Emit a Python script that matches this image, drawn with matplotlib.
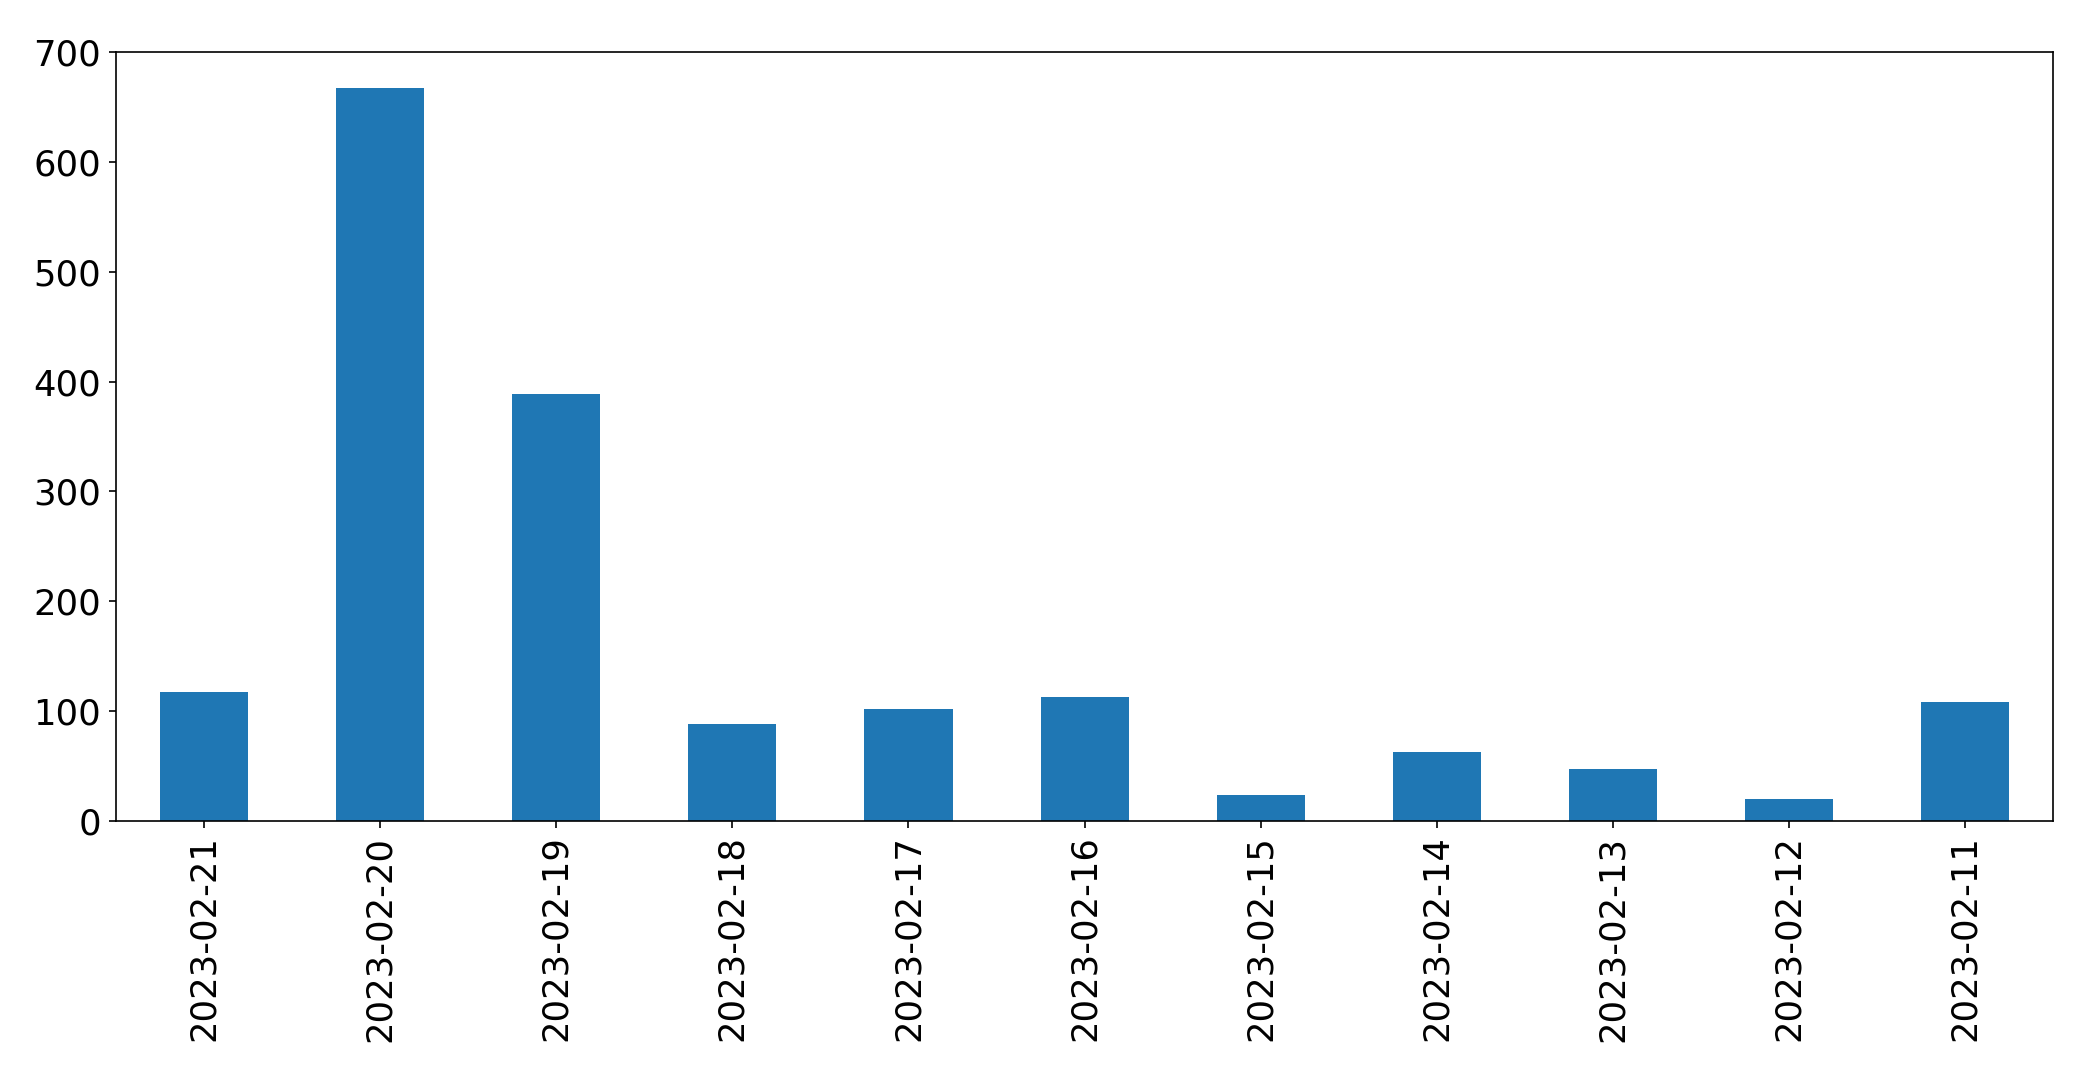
import matplotlib
matplotlib.use('Agg')
from matplotlib import pyplot as plt

# daily counts, newest first
dates = ['2023-02-21', '2023-02-20', '2023-02-19', '2023-02-18', '2023-02-17',
         '2023-02-16', '2023-02-15', '2023-02-14', '2023-02-13', '2023-02-12',
         '2023-02-11']
counts = [117, 667, 389, 88, 102, 113, 24, 63, 47, 20, 108]

fig = plt.figure(figsize=(2093 / 150, 1073 / 150), dpi=150)
ax = fig.add_subplot(111)
fig.subplots_adjust(left=0.0554, right=0.981, top=0.9515, bottom=0.2349)

positions = list(range(len(dates)))
ax.bar(positions, counts, width=0.5, color='#1f77b4')
ax.set_xlim(-0.5, len(dates) - 0.5)
ax.set_ylim(0, 700)
ax.set_xticks(positions)
ax.set_xticklabels(dates, rotation=90)
ax.tick_params(axis='both', labelsize=17)

plt.savefig('out.png', dpi=150)
plt.close()
